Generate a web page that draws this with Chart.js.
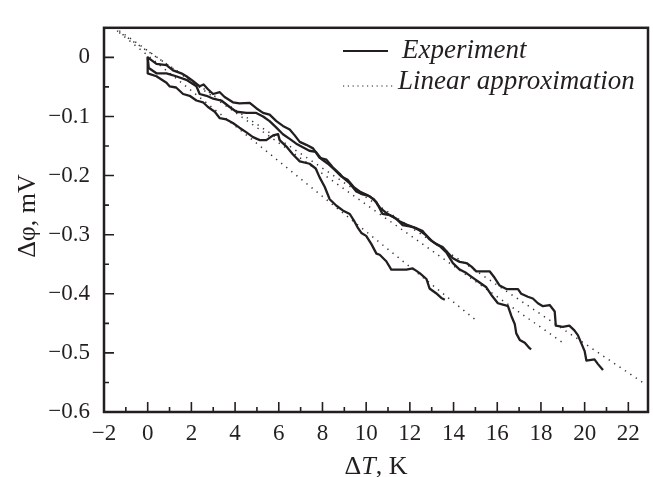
<!DOCTYPE html>
<html>
<head>
<meta charset="utf-8">
<script src="https://cdn.jsdelivr.net/npm/chart.js@4.4.0/dist/chart.umd.min.js"></script>
<style>
  body { margin: 0; background: #fff; }
</style>
</head>
<body>
<canvas id="chart" width="653" height="477"></canvas>
<script>
// axis ticks
const xMajorTicks = [-2, 0, 2, 4, 6, 8, 10, 12, 14, 16, 18, 20, 22];
const xMinorTicks = [-1, 1, 3, 5, 7, 9, 11, 13, 15, 17, 19, 21];
const yMajorTicks = [0, -0.1, -0.2, -0.3, -0.4, -0.5, -0.6];
const yMinorTicks = [-0.05, -0.15, -0.25, -0.35, -0.45, -0.55];

// experiment, run 1 (longest)
const expAx = [0, 0.4, 0.86, 1.16, 1.54, 1.77, 2.07, 2.38, 2.56, 2.76, 2.99, 3.3, 3.52, 3.9, 4.2, 4.67, 4.97, 5.28, 5.58, 5.89,
  6.19, 6.5, 6.73, 6.96, 7.26, 7.57, 7.87, 8.18, 8.47, 8.79, 8.93, 9.24, 9.55, 9.84, 10.16, 10.47, 10.75, 11.08, 11.38, 11.67,
  11.99, 12.3, 12.59, 12.9, 13.21, 13.5, 13.97, 14.28, 14.59, 14.82, 15.04, 15.35, 15.65, 15.88, 16.11, 16.42, 16.65, 16.95, 17.1, 17.4,
  17.63, 17.86, 18.09, 18.4, 18.63, 18.68, 19.0, 19.3, 19.53, 19.69, 19.84, 20.0, 20.08, 20.45, 20.61, 20.84];
const expAy = [0, -0.011, -0.013, -0.022, -0.027, -0.032, -0.04, -0.049, -0.046, -0.054, -0.062, -0.059, -0.067, -0.076, -0.078, -0.077, -0.086, -0.094, -0.097, -0.108,
  -0.116, -0.122, -0.132, -0.143, -0.148, -0.154, -0.17, -0.173, -0.186, -0.197, -0.203, -0.213, -0.227, -0.232, -0.235, -0.245, -0.265, -0.267, -0.273, -0.284,
  -0.286, -0.289, -0.294, -0.308, -0.316, -0.321, -0.34, -0.346, -0.348, -0.354, -0.362, -0.362, -0.362, -0.373, -0.386, -0.392, -0.392, -0.392, -0.4, -0.405,
  -0.408, -0.416, -0.421, -0.419, -0.43, -0.454, -0.456, -0.454, -0.462, -0.47, -0.483, -0.497, -0.513, -0.511, -0.519, -0.529];

// experiment, run 2
const expBx = [0, 0.05, 0.4, 0.86, 1.3, 1.77, 2.23, 2.38, 2.69, 3.0, 3.37, 3.75, 4.06, 4.52, 4.97, 5.28, 5.58, 5.89, 6.19, 6.5,
  6.8, 7.1, 7.4, 7.7, 7.95, 8.25, 8.55, 8.85, 9.15, 9.45, 9.75, 10.05, 10.35, 10.65, 10.95, 11.25, 11.55, 11.85, 12.15, 12.45,
  12.75, 13.05, 13.36, 13.67, 13.97, 14.28, 14.59, 14.89, 15.19, 15.5, 15.73, 16.03, 16.34, 16.49, 16.65, 16.8, 16.87, 17.03, 17.26, 17.48, 17.55];
const expBy = [0, -0.018, -0.027, -0.027, -0.032, -0.038, -0.049, -0.062, -0.065, -0.07, -0.073, -0.084, -0.092, -0.094, -0.094, -0.1, -0.108, -0.119, -0.13, -0.138,
  -0.146, -0.152, -0.158, -0.16, -0.172, -0.18, -0.19, -0.201, -0.207, -0.22, -0.228, -0.233, -0.24, -0.255, -0.264, -0.27, -0.278, -0.283, -0.287, -0.293,
  -0.301, -0.312, -0.319, -0.33, -0.348, -0.359, -0.365, -0.373, -0.381, -0.389, -0.402, -0.416, -0.419, -0.421, -0.438, -0.451, -0.467, -0.478, -0.483, -0.492, -0.494];

// experiment, run 3 (shortest)
const expCx = [0, 0, 0.4, 0.86, 1.0, 1.3, 1.62, 1.92, 2.23, 2.53, 2.76, 3.07, 3.3, 3.6, 3.9, 4.2, 4.52, 4.82, 5.13, 5.43,
  5.74, 5.97, 6.04, 6.35, 6.64, 6.96, 7.41, 7.69, 7.87, 8.1, 8.33, 8.64, 8.93, 9.25, 9.47, 9.63, 9.78, 10.0, 10.24, 10.47,
  10.62, 10.92, 11.15, 11.5, 11.84, 12.13, 12.45, 12.76, 12.9, 13.2, 13.44, 13.6];
const expCy = [0, -0.027, -0.032, -0.043, -0.049, -0.051, -0.062, -0.065, -0.073, -0.076, -0.084, -0.092, -0.103, -0.105, -0.111, -0.119, -0.127, -0.135, -0.14, -0.14,
  -0.132, -0.13, -0.14, -0.151, -0.164, -0.176, -0.18, -0.188, -0.203, -0.219, -0.24, -0.251, -0.259, -0.265, -0.278, -0.289, -0.297, -0.302, -0.316, -0.332,
  -0.334, -0.345, -0.359, -0.359, -0.359, -0.357, -0.365, -0.375, -0.391, -0.399, -0.407, -0.41];

// linear approximations (end points)
const fitAx = [-1.4, 22.7];
const fitAy = [0.045, -0.551];
const fitBx = [-1.3, 19.08];
const fitBy = [0.045, -0.485];
const fitCx = [-1.3, 14.97];
const fitCy = [0.042, -0.443];

const ink = '#231f20';
const serif = '"Liberation Serif", "Times New Roman", serif';

function toPoints(xs, ys) {
  return xs.map(function(x, i) { return { x: x, y: ys[i] }; });
}

function fmt(v) {
  if (Math.abs(v) < 1e-9) return '0';
  const s = Math.abs(v).toString();
  return v < 0 ? '\u2212' + s : s;
}

function expSet(xs, ys) {
  return { data: toPoints(xs, ys), showLine: true, borderColor: ink, borderWidth: 2.3,
    pointRadius: 0, tension: 0, borderJoinStyle: 'round' };
}

function fitSet(xs, ys) {
  return { data: toPoints(xs, ys), showLine: true, borderColor: '#333', borderWidth: 1.5,
    borderDash: [1.3, 5.2], borderCapStyle: 'butt', pointRadius: 0 };
}

// frame, inward ticks, axis titles and legend
const decorations = {
  id: 'decorations',
  afterDraw(chart) {
    const ctx = chart.ctx;
    const a = chart.chartArea;
    const xs = chart.scales.x, ys = chart.scales.y;
    ctx.save();
    ctx.strokeStyle = ink;
    ctx.lineWidth = 2.5;
    ctx.strokeRect(a.left, a.top, a.right - a.left, a.bottom - a.top);

    ctx.lineWidth = 1.6;
    ctx.beginPath();
    xMajorTicks.forEach(function(v) { const p = xs.getPixelForValue(v); ctx.moveTo(p, a.bottom); ctx.lineTo(p, a.bottom - 10); });
    xMinorTicks.forEach(function(v) { const p = xs.getPixelForValue(v); ctx.moveTo(p, a.bottom); ctx.lineTo(p, a.bottom - 5); });
    yMajorTicks.forEach(function(v) { const p = ys.getPixelForValue(v); ctx.moveTo(a.left, p); ctx.lineTo(a.left + 10, p); });
    yMinorTicks.forEach(function(v) { const p = ys.getPixelForValue(v); ctx.moveTo(a.left, p); ctx.lineTo(a.left + 5, p); });
    ctx.stroke();

    ctx.fillStyle = ink;
    ctx.textBaseline = 'alphabetic';
    // x title: ΔT, K with italic T
    const parts = [['\u0394', '26px ' + serif], ['T', 'italic 26px ' + serif], [', K', '26px ' + serif]];
    let w = 0;
    parts.forEach(function(p) { ctx.font = p[1]; w += ctx.measureText(p[0]).width; });
    let x = (a.left + a.right) / 2 - w / 2;
    parts.forEach(function(p) { ctx.font = p[1]; ctx.fillText(p[0], x, 474); x += ctx.measureText(p[0]).width; });

    // y title
    ctx.save();
    ctx.translate(35, 216);
    ctx.rotate(-Math.PI / 2);
    ctx.font = '26px ' + serif;
    ctx.textAlign = 'center';
    ctx.fillText('\u0394\u03c6, mV', 0, 0);
    ctx.restore();

    // legend
    ctx.lineWidth = 2.2;
    ctx.setLineDash([]);
    ctx.beginPath();
    ctx.moveTo(343, 51); ctx.lineTo(388, 51);
    ctx.stroke();
    ctx.lineWidth = 1.2;
    ctx.setLineDash([1.2, 3.6]);
    ctx.beginPath();
    ctx.moveTo(343, 86); ctx.lineTo(393, 86);
    ctx.stroke();
    ctx.setLineDash([]);
    ctx.font = 'italic 27px ' + serif;
    ctx.textBaseline = 'middle';
    ctx.fillText('Experiment', 402, 51);
    ctx.fillText('Linear approximation', 398, 82);
    ctx.restore();
  }
};

new Chart(document.getElementById('chart'), {
  type: 'scatter',
  data: {
    datasets: [
      expSet(expAx, expAy), expSet(expBx, expBy), expSet(expCx, expCy),
      fitSet(fitAx, fitAy), fitSet(fitBx, fitBy), fitSet(fitCx, fitCy)
    ]
  },
  options: {
    responsive: false,
    animation: false,
    layout: { padding: { top: 11, right: 5, left: 0, bottom: 0 } },
    plugins: { legend: { display: false }, tooltip: { enabled: false } },
    scales: {
      x: {
        type: 'linear', min: -2, max: 22.9,
        afterBuildTicks: function(s) { s.ticks = xMajorTicks.map(function(v) { return { value: v }; }); },
        afterFit: function(s) { s.height = 65; },
        grid: { display: false, drawTicks: false },
        border: { display: false },
        ticks: { color: ink, padding: 8, maxRotation: 0, autoSkip: false,
          font: { family: serif, size: 23 }, callback: function(v) { return fmt(v); } }
      },
      y: {
        type: 'linear', min: -0.6, max: 0.05,
        afterBuildTicks: function(s) { s.ticks = yMajorTicks.map(function(v) { return { value: v }; }); },
        afterFit: function(s) { s.width = 104; },
        grid: { display: false, drawTicks: false },
        border: { display: false },
        ticks: { color: ink, padding: 14, autoSkip: false,
          font: { family: serif, size: 23 }, callback: function(v) { return fmt(v); } }
      }
    }
  },
  plugins: [decorations]
});
</script>
</body>
</html>
